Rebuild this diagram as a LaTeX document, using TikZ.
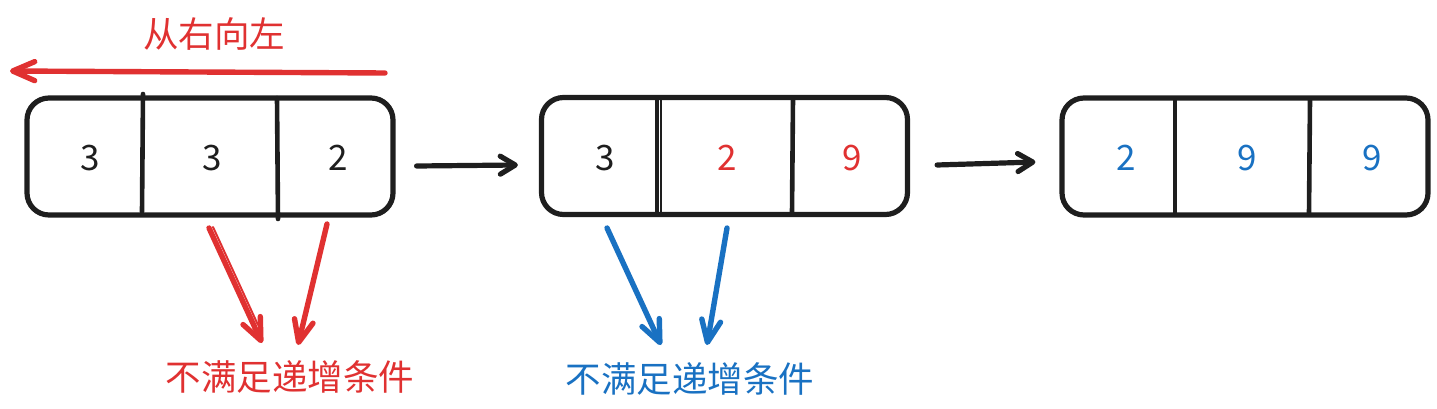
\documentclass[tikz,border=0pt]{standalone}
\usepackage{fontspec}
\setmainfont{Noto Sans CJK SC}
\usetikzlibrary{arrows.meta}
\definecolor{exred}{HTML}{E03131}
\definecolor{exblue}{HTML}{1971C2}
\definecolor{exblack}{HTML}{1E1E1E}
\begin{document}
\begin{tikzpicture}[x=1pt,y=-1pt,
  box/.style={draw=exblack,line width=5.2pt,rounded corners=22pt,minimum width=366pt,minimum height=117pt,inner sep=0pt},
  divline/.style={draw=exblack,line width=4.6pt,line cap=round},
  num/.style={font=\fontsize{35}{40}\selectfont,anchor=base,inner sep=0pt},
  lbl/.style={font=\fontsize{35.5}{40}\selectfont,anchor=base,inner sep=0pt},
  arrk/.style={draw=exblack,line width=5.2pt,line cap=round,-{Straight Barb[length=15pt,width=18pt,line join=round,line cap=round]}},
  arrr/.style={draw=exred,line width=5.4pt,line cap=round,-{Straight Barb[length=22pt,width=19pt,line join=round,line cap=round]}},
  arrb/.style={draw=exblue,line width=5.4pt,line cap=round,-{Straight Barb[length=22pt,width=19pt,line join=round,line cap=round]}}
]
\useasboundingbox (0,0) rectangle (1437,409);

% boxes
\node[box] (b1) at (210,156.5) {};
\node[box] (b2) at (724.5,156) {};
\node[box] (b3) at (1245,156.5) {};

% dividers
\draw[divline] (143,94) -- (142,212);
\draw[divline] (277,98) -- (278,219);
\draw[divline] (657,99) -- (657,213);
\draw[exblack,line width=2.2pt] (661,99) -- (661,213);
\draw[divline] (793,98) -- (792,213);
\draw[divline] (1175,100) -- (1175,212);
\draw[divline] (1310,99) -- (1309,213);

% numbers
\node[num,text=exblack] (n11) at (90,170) {3};
\node[num,text=exblack] (n12) at (212,170) {3};
\node[num,text=exblack] (n13) at (338,170) {2};
\node[num,text=exblack] (n21) at (605,170) {3};
\node[num,text=exred] (n22) at (727,170) {2};
\node[num,text=exred] (n23) at (852,170) {9};
\node[num,text=exblue] (n31) at (1126,170) {2};
\node[num,text=exblue] (n32) at (1247,170) {9};
\node[num,text=exblue] (n33) at (1372,170) {9};

% labels
\node[lbl,text=exred] (t0) at (214,47.5) {从右向左};
\node[lbl,text=exred] (t1) at (290,390) {不满足递增条件};
\node[lbl,text=exblue] (t2) at (690,392) {不满足递增条件};

% arrows between boxes
\draw[arrk] ([xshift=21pt,yshift=-9.5pt]b1.east) -- ([xshift=-21pt,yshift=-9pt]b2.west);
\draw[arrk] ([xshift=27pt,yshift=-9pt]b2.east) -- ([xshift=-24pt,yshift=-5.5pt]b3.west);

% direction arrow
\coordinate (d0s) at (385,73);
\coordinate (d0e) at (10,71);
\draw[arrr] (d0s) -- (d0e);

% red down arrows
\coordinate (r1s) at (209,228);
\coordinate (r1e) at (262,343);
\coordinate (r2s) at (327,224);
\coordinate (r2e) at (298,345);
\draw[arrr] (r1s) -- (r1e);
\draw[exred,line width=2pt,line cap=round] (213,227) -- (258,325);
\draw[arrr] (r2s) -- (r2e);

% blue down arrows
\coordinate (u1s) at (607,228);
\coordinate (u1e) at (661,345);
\coordinate (u2s) at (727,228);
\coordinate (u2e) at (707,345);
\draw[arrb] (u1s) -- (u1e);
\draw[arrb] (u2s) -- (u2e);
\end{tikzpicture}
\end{document}
